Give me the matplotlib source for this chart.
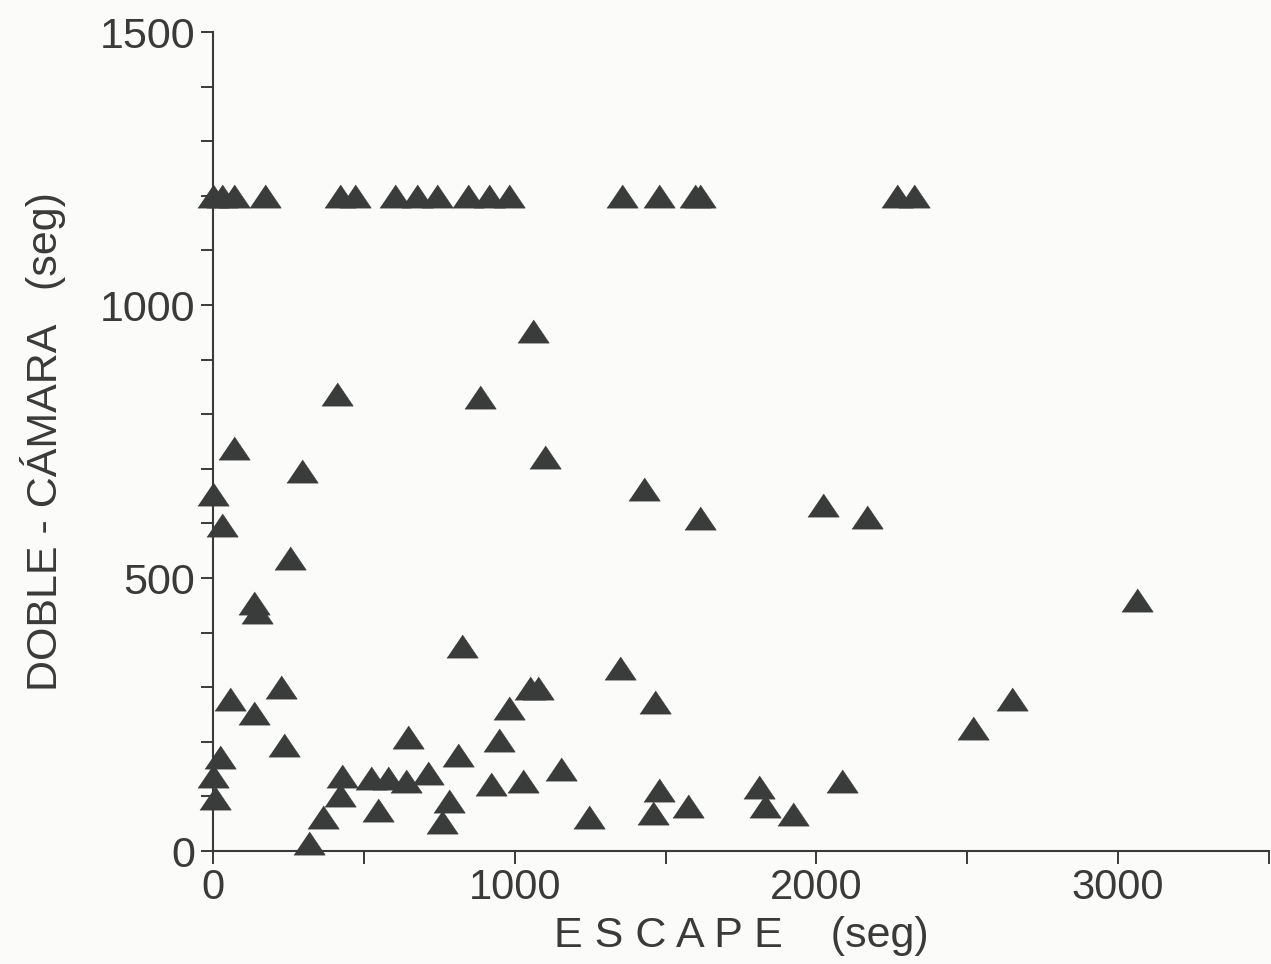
import matplotlib
matplotlib.use("Agg")
import matplotlib.pyplot as plt
from matplotlib.ticker import MultipleLocator

plt.rcParams['font.family'] = ['Liberation Sans', 'DejaVu Sans']

# Data (seconds)
top_x = [0, 30, 70, 172, 420, 470, 603, 675, 742, 844, 914, 980,
         1354, 1477, 1596, 1613, 2268, 2325]
top_y = [1200] * len(top_x)

escape = [1060, 411, 884, 70, 1100, 295, 0, 30, 255, 1427, 1613, 2023, 2169,
          136, 145, 3063, 824, 1348, 56, 225, 136, 1050, 1076, 980, 1464,
          2649, 2520, 235, 23, 0, 7, 646, 811, 947, 427, 523, 580, 640, 711,
          923, 1026, 1152, 420, 364, 318, 546, 781, 758, 1245, 1477, 1457,
          1576, 1811, 1831, 1924, 2086]
doble = [952, 837, 832, 738, 721, 696, 654, 597, 537, 663, 610, 634, 612,
         455, 437, 460, 375, 335, 278, 300, 253, 298, 298, 262, 273,
         278, 225, 194, 172, 137, 97, 209, 176, 203, 137, 134, 134, 128, 143,
         123, 128, 150, 103, 62, 15, 75, 92, 53, 62, 112, 70,
         82, 117, 82, 68, 128]

x_all = top_x + escape
y_all = top_y + doble

xticks = [0, 1000, 2000, 3000]
yticks = [0, 500, 1000, 1500]

bg = '#fbfbf9'
fg = '#3a3a3a'
mcol = '#3a3c3c'

fig = plt.figure(figsize=(12.71, 9.64), dpi=100, facecolor=bg)
ax = fig.add_axes([0.1676, 0.1172, 0.9984 - 0.1676, 0.9668 - 0.1172])
ax.set_facecolor(bg)

tri = [(-1, -0.74), (1, -0.74), (0, 0.74)]
ax.plot(x_all, y_all, linestyle='none', marker=tri, markersize=22.5,
        color=mcol, markeredgecolor=mcol, markeredgewidth=0.5,
        clip_on=False, zorder=2)

ax.set_xlim(0, 3500)
ax.set_ylim(0, 1500)
ax.set_xticks(xticks)
ax.set_yticks(yticks)
ax.xaxis.set_minor_locator(MultipleLocator(500))
ax.yaxis.set_minor_locator(MultipleLocator(100))

for s in ['top', 'right']:
    ax.spines[s].set_visible(False)
for s in ['left', 'bottom']:
    ax.spines[s].set_linewidth(1.5)
    ax.spines[s].set_color(fg)
    ax.spines[s].set_zorder(3)

ax.tick_params(which='both', direction='out', length=9, width=1.4, color=fg)
ax.tick_params(axis='y', which='major', labelsize=31, pad=4, labelcolor=fg)
ax.tick_params(axis='x', which='major', labelsize=30, pad=3, labelcolor=fg)

ax.set_xlabel('E S C A P E    (seg)', fontsize=31, color=fg, labelpad=6)
ax.set_ylabel('DOBLE - CÁMARA   (seg)', fontsize=31, color=fg, labelpad=24)

fig.savefig('out.png', dpi=100, facecolor=bg)
